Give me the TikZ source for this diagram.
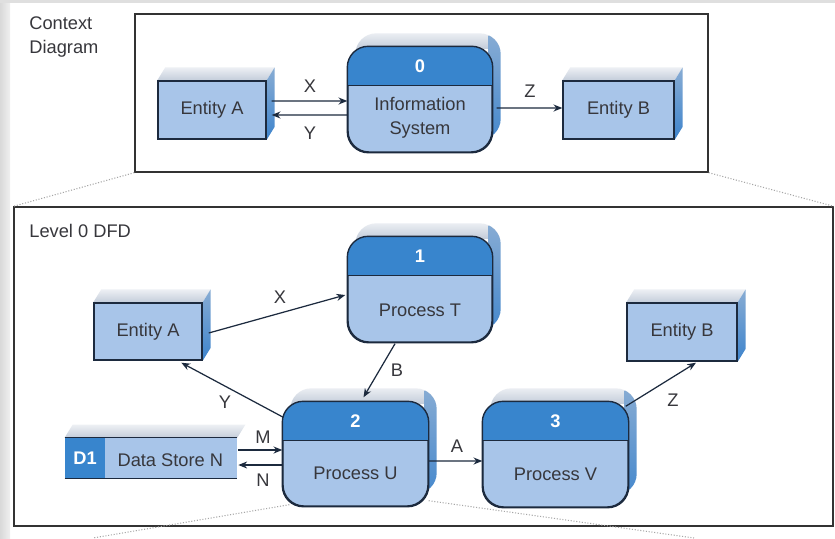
\documentclass[tikz,border=0pt]{standalone}
\usepackage{fontspec}
\setmainfont{Liberation Sans}
\usetikzlibrary{arrows.meta,calc,backgrounds}

\definecolor{boxfill}{RGB}{168,197,233}
\definecolor{hdrfill}{RGB}{56,133,205}
\definecolor{sidefill}{RGB}{62,132,204}
\definecolor{edge}{RGB}{28,42,62}
\definecolor{txt}{RGB}{55,55,60}
\definecolor{glow}{RGB}{196,205,218}

% one unit = one pixel of an 835 x 538 canvas, y grows downwards
\def\px{0.02cm}

\tikzset{
  every node/.style={font=\fontsize{10.4}{13.6}\selectfont, text=txt},
  entitybox/.style={draw=edge, line width=0.8pt, fill=boxfill, inner sep=0pt},
  procbox/.style={draw=edge, line width=0.8pt, fill=boxfill, rounded corners=0.42cm, inner sep=0pt},
  numtxt/.style={font=\fontsize{10.4}{12}\selectfont\bfseries, text=white},
  flow/.style={draw=edge, line width=0.7pt, -{Stealth[length=5pt,width=4pt]}},
  flowlbl/.style={text=txt, inner sep=0pt},
  frame/.style={draw=black!80, line width=0.8pt, inner sep=0pt},
  zoomline/.style={draw=gray!70, densely dotted, line width=0.6pt},
  topface/.style={top color=glow!30!white, bottom color=glow},
  sideface/.style={top color=sidefill!45!glow, bottom color=sidefill},
}

% raised look for a square box: slanted top face and blue side face
\newcommand\extrudebox[1]{%
  \begin{scope}[on background layer]
    \shade[topface] (#1.north west) -- ++(8,-13) -- ($(#1.north east)+(8,-13)$) -- (#1.north east) -- cycle;
    \shade[sideface] (#1.north east) -- ++(8,-13) -- ($(#1.south east)+(8,-13)$) -- (#1.south east) -- cycle;
  \end{scope}}

% raised look for a rounded box: shifted copy, grey on top, blue at the side
\newcommand\extrudeproc[1]{%
  \begin{scope}[on background layer]
  \begin{scope}
    \clip[rounded corners=0.42cm] ($(#1.south west)+(8,-13)$) rectangle ($(#1.north east)+(8,-13)$);
    \shade[topface] ($(#1.north west)+(0,-14)$) rectangle ($(#1.north east)+(10,2)$);
    \shade[sideface] ($(#1.north east)+(-4,-14)$) rectangle ($(#1.south east)+(10,0)$);
  \end{scope}
  \end{scope}}

% dark title band of a process box
\newcommand\procheader[2]{%
  \begin{scope}
    \clip[rounded corners=0.42cm] (#1.south west) rectangle (#1.north east);
    \fill[hdrfill] (#1.north west) rectangle ($(#1.north east)+(0,#2)$);
  \end{scope}
  \draw[edge, line width=0.8pt] ($(#1.north west)+(0,#2)$) -- ($(#1.north east)+(0,#2)$);
  \draw[edge, line width=0.8pt, rounded corners=0.42cm] (#1.south west) rectangle (#1.north east);}

\begin{document}
\begin{tikzpicture}[x=0.02cm, y=-0.02cm]
\useasboundingbox (0,0) rectangle (835,538);
\begin{scope}[on background layer]
  \fill[white] (0,0) rectangle (835,538);
  \shade[left color=gray!30, right color=gray!12] (0,0) rectangle (10,538);
  \fill[gray!25] (0,0) rectangle (835,3);
\end{scope}

% ---------------- context diagram ----------------
\node[frame, minimum width=573*\px, minimum height=158*\px] (ctx) at (421.5,93) {};
\node[anchor=north west, align=left, inner sep=0pt] (ctxlbl) at (29,16) {Context\\Diagram};

\node[entitybox, minimum width=108*\px, minimum height=58*\px] (eA) at (212,110) {Entity A};
\extrudebox{eA}
\node[entitybox, minimum width=111*\px, minimum height=58*\px] (eB) at (618.5,110) {Entity B};
\extrudebox{eB}

\node[procbox, minimum width=144*\px, minimum height=105*\px] (p0) at (420,99.5) {};
\extrudeproc{p0}
\procheader{p0}{39}
\node[numtxt] (p0num) at ($(p0.north)+(0,20)$) {0};
\node[align=center] (p0txt) at ($(p0.south)+(0,-35)$) {Information\\System};

\draw[flow] ($(eA.east)+(5,-9)$) -- ($(p0.west)+(0,1.5)$);
\draw[flow] ($(p0.west)+(0,15.5)$) -- ($(eA.east)+(5,5)$);
\draw[flow] ($(p0.east)+(4,8.5)$) -- ($(eB.west)+(0,-2)$);
\node[flowlbl] (lx0) at (310,86) {X};
\node[flowlbl] (ly0) at (310,133) {Y};
\node[flowlbl] (lz0) at (530,91) {Z};

% ---------------- level 0 DFD ----------------
\node[frame, minimum width=819*\px, minimum height=319*\px] (l0) at (423.5,366.5) {};
\node[anchor=west, inner sep=0pt] (l0lbl) at (29,231) {Level 0 DFD};

\node[entitybox, minimum width=108*\px, minimum height=57*\px] (eA1) at (148,331.5) {Entity A};
\extrudebox{eA1}
\node[entitybox, minimum width=110*\px, minimum height=58*\px] (eB1) at (682,332) {Entity B};
\extrudebox{eB1}

\node[procbox, minimum width=144*\px, minimum height=105*\px] (p1) at (420,289.5) {};
\extrudeproc{p1}
\procheader{p1}{39}
\node[numtxt] (p1num) at ($(p1.north)+(0,20)$) {1};
\node (p1txt) at ($(p1.south)+(0,-32)$) {Process T};

\node[procbox, minimum width=145*\px, minimum height=104*\px] (p2) at (355.5,454) {};
\extrudeproc{p2}
\procheader{p2}{39}
\node[numtxt] (p2num) at ($(p2.north)+(0,20)$) {2};
\node (p2txt) at ($(p2.south)+(0,-33)$) {Process U};

\node[procbox, minimum width=145*\px, minimum height=105*\px] (p3) at (555.5,454.5) {};
\extrudeproc{p3}
\procheader{p3}{39}
\node[numtxt] (p3num) at ($(p3.north)+(0,20)$) {3};
\node (p3txt) at ($(p3.south)+(0,-33)$) {Process V};

% data store
\node[fill=boxfill, minimum width=172*\px, minimum height=40*\px, inner sep=0pt] (ds) at (151,458) {};
\shade[topface] (ds.north west) -- ++(8,-13) -- ($(ds.north east)+(8,-13)$) -- (ds.north east) -- cycle;
\node[fill=hdrfill, minimum width=40*\px, minimum height=40*\px, inner sep=0pt, anchor=north west,
      font=\fontsize{10.4}{12}\selectfont\bfseries, text=white] (d1) at (ds.north west) {D1};
\node[anchor=west] (dstxt) at ($(d1.east)+(6,2)$) {Data Store N};
\draw[edge, line width=0.8pt] (ds.north west) -- (ds.north east);
\draw[edge, line width=0.8pt] (ds.south west) -- (ds.south east);

% flows
\draw[flow] ($(eA1.east)+(6,1.5)$) -- ($(p1.west)+(-2,5.5)$);
\draw[flow] ($(p1.south)+(-25,1)$) -- ($(p2.north)+(8,-4)$);
\draw[flow] ($(p2.north west)+(1,16)$) -- ($(eA1.south west)+(88,2)$);
\draw[flow] ($(ds.east)+(1,-8)$) -- ($(p2.west)+(0,-4)$);
\draw[flow] ($(p2.west)+(0,11)$) -- ($(ds.east)+(1,7)$);
\draw[flow] ($(p2.east)+(0,7)$) -- ($(p3.west)+(0,6.5)$);
\draw[flow] ($(p3.north east)+(-3,5)$) -- ($(eB1.south)+(14,1)$);

\node[flowlbl] (lx1) at (280,297) {X};
\node[flowlbl] (lb1) at (397,370) {B};
\node[flowlbl] (ly1) at (225,402) {Y};
\node[flowlbl] (lm1) at (263,437) {M};
\node[flowlbl] (ln1) at (263,480) {N};
\node[flowlbl] (la1) at (457,446) {A};
\node[flowlbl] (lz1) at (673,400) {Z};

% zoom guides
\coordinate (gl) at (93,538);
\coordinate (gr) at (694,538);
\draw[zoomline] (ctx.south west) -- (l0.north west);
\draw[zoomline] (ctx.south east) -- (l0.north east);
\draw[zoomline] ($(p2.south west)+(7,-2)$) -- (gl);
\draw[zoomline] ($(p2.south east)+(0,-6)$) -- (gr);
\end{tikzpicture}
\end{document}
